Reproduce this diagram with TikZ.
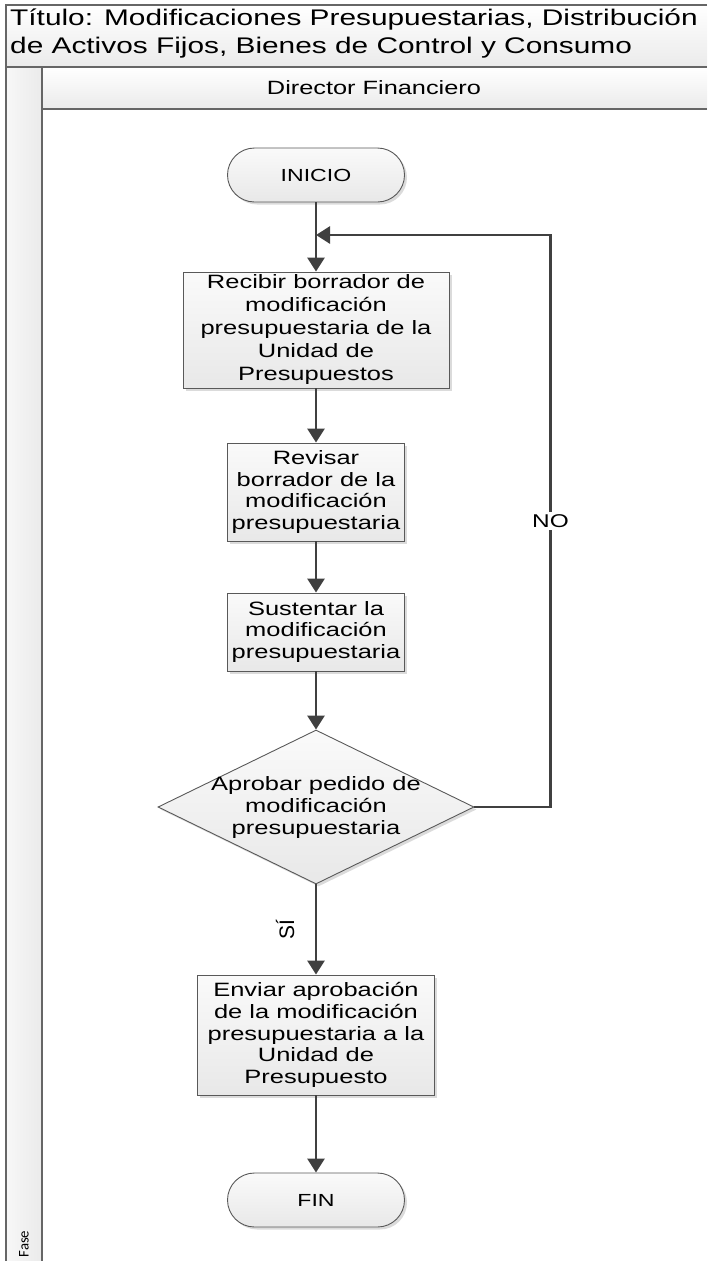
\documentclass[tikz,border=0pt]{standalone}
\usepackage{fontspec}
\setmainfont{Liberation Sans}[FakeStretch=1.32]
\newfontfamily\plainfont{Liberation Sans}
\newfontfamily\fasefont{Carlito}
\usepackage{tikz}
\usetikzlibrary{arrows.meta, positioning, shapes.geometric, shadows, calc}

\begin{document}
\begin{tikzpicture}[
  x=1pt, y=1pt,
  frameline/.style={draw=black!60, line width=1.3pt},
  shapebox/.style={draw=black!65, line width=0.9pt, top color=black!2,
    bottom color=black!9, align=center, inner sep=0pt,
    drop shadow={shadow xshift=2.5pt, shadow yshift=-2.5pt,
      fill=black!35, opacity=0.4},
    font=\fontsize{19.3}{21.7}\selectfont},
  proc/.style={shapebox, rectangle},
  term/.style={shapebox, rectangle, rounded corners=27pt,
    minimum width=177pt, minimum height=54pt,
    font=\fontsize{17.5}{20}\selectfont},
  dec/.style={shapebox, diamond, aspect=2,
    minimum width=316pt, minimum height=154pt},
  flow/.style={draw=black!75, line width=2.8pt,
    -{Triangle[width=17pt, length=14pt]}},
  lbl/.style={font=\fontsize{18.5}{22}\selectfont, fill=white, inner sep=2pt}
]
  \useasboundingbox (0,0) rectangle (707,-1261);

  \fill[top color=white, bottom color=black!8] (6,-5) rectangle (707,-67);
  \fill[left color=black!3, right color=black!8] (6,-67) rectangle (42,-1261);
  \fill[top color=white, bottom color=black!8] (42,-67) rectangle (707,-109);
  \draw[frameline] (707,-5) -- (6,-5) -- (6,-1261);
  \draw[frameline] (6,-67) -- (707,-67);
  \draw[frameline] (42,-67) -- (42,-1261);
  \draw[frameline] (42,-109) -- (707,-109);

  \node[anchor=west, align=left, inner sep=0pt,
        font=\fontsize{22.6}{28}\selectfont] (titulo) at (10,-34)
    {Título: Modificaciones Presupuestarias, Distribución\\
     de Activos Fijos, Bienes de Control y Consumo};
  \node[font=\fontsize{19.2}{22}\selectfont] (cargo) at (374,-88)
    {Director Financiero};
  \node[rotate=90, font=\fasefont\fontsize{14.8}{16}\selectfont] (fase)
    at (24,-1244) {Fase};

  \node[term] (inicio) at (316,-175) {INICIO};
  \node[proc, minimum width=266pt, minimum height=116pt,
        font=\fontsize{19.3}{23}\selectfont] (recibir)
    at (316,-330) {Recibir borrador de\\modificación\\presupuestaria de la\\
      Unidad de\\Presupuestos};
  \node[proc, minimum width=177pt, minimum height=98pt] (revisar)
    at (316,-492) {Revisar\\borrador de la\\modificación\\presupuestaria};
  \node[proc, minimum width=177pt, minimum height=78pt] (sustentar)
    at (316,-632) {Sustentar la\\modificación\\presupuestaria};
  \node[dec] (aprobar) at (316,-807) {};
  \node[align=center, font=\fontsize{19.3}{22}\selectfont] (aprobartxt)
    at (aprobar.center) {Aprobar pedido de\\modificación\\presupuestaria};
  \node[proc, minimum width=237pt, minimum height=120pt] (enviar)
    at (316,-1035) {Enviar aprobación\\de la modificación\\
      presupuestaria a la\\Unidad de\\Presupuesto};
  \node[term] (fin) at (316,-1200) {FIN};

  \coordinate (retorno) at (316,-235);

  \draw[flow] (inicio) -- (recibir);
  \draw[flow] (recibir) -- (revisar);
  \draw[flow] (revisar) -- (sustentar);
  \draw[flow] (sustentar) -- (aprobar);
  \draw[flow] (aprobar.east) -- ++(76,0) |- node[lbl, pos=0.25] {NO} (retorno);
  \draw[flow] (aprobar.south) -- node[midway, xshift=-31pt, rotate=90,
      font=\plainfont\fontsize{21}{24}\selectfont] {SÍ} (enviar);
  \draw[flow] (enviar) -- (fin);

\end{tikzpicture}
\end{document}
